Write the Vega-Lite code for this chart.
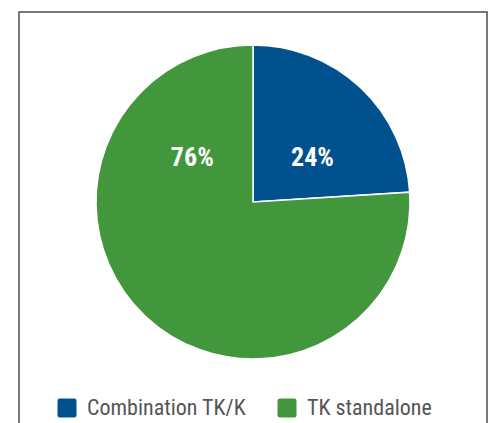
{
  "$schema": "https://vega.github.io/schema/vega-lite/v6.json",
  "width": 468,
  "height": 412,
  "padding": {"left": 18, "top": 11, "right": 2, "bottom": 0},
  "background": "white",
  "data": {
    "values": [
      {"category": "Combination TK/K", "share": 24, "label": "24%"},
      {"category": "TK standalone", "share": 76, "label": "76%"}
    ]
  },
  "config": {
    "view": {"stroke": null}
  },
  "layer": [
    {
      "mark": {"type": "rect", "fill": null, "fillOpacity": 0, "stroke": "#707070", "strokeWidth": 1.5},
      "encoding": {}
    },
    {
      "mark": {"type": "arc", "outerRadius": 157, "stroke": "white", "strokeWidth": 1.5, "y": 190},
      "encoding": {
        "theta": {"field": "share", "type": "quantitative", "stack": true},
        "color": {
          "field": "category",
          "type": "nominal",
          "scale": {"domain": ["Combination TK/K", "TK standalone"], "range": ["#02518f", "#42963b"]},
          "legend": {
            "orient": "none",
            "direction": "horizontal",
            "legendX": 37,
            "legendY": 385,
            "title": null,
            "symbolType": "M-0.75,-1H0.75Q1,-1 1,-0.75V0.75Q1,1 0.75,1H-0.75Q-1,1 -1,0.75V-0.75Q-1,-1 -0.75,-1Z",
            "symbolSize": 361,
            "symbolStrokeWidth": 0,
            "symbolOpacity": 1,
            "labelFont": "Roboto Condensed, Liberation Sans Narrow, DejaVu Sans Condensed, Roboto, sans-serif",
            "labelFontSize": 22,
            "labelColor": "#555555",
            "labelOffset": 9,
            "columnPadding": 29,
            "labelLimit": 300
          }
        },
        "order": {"field": "category"}
      }
    },
    {
      "transform": [{"filter": "datum.category === 'Combination TK/K'"}],
      "mark": {"type": "text", "radius": 74, "theta": 0.934, "y": 190, "x": {"expr": "width/2"}, "font": "Roboto Condensed, Liberation Sans Narrow, DejaVu Sans Condensed, Roboto, sans-serif", "fontWeight": "bold", "fontSize": 26, "color": "white", "align": "center", "baseline": "middle"},
      "encoding": {"text": {"field": "label"}}
    },
    {
      "transform": [{"filter": "datum.category === 'TK standalone'"}],
      "mark": {"type": "text", "radius": 75, "theta": -0.943, "y": 190, "x": {"expr": "width/2"}, "font": "Roboto Condensed, Liberation Sans Narrow, DejaVu Sans Condensed, Roboto, sans-serif", "fontWeight": "bold", "fontSize": 26, "color": "white", "align": "center", "baseline": "middle"},
      "encoding": {"text": {"field": "label"}}
    }
  ]
}
